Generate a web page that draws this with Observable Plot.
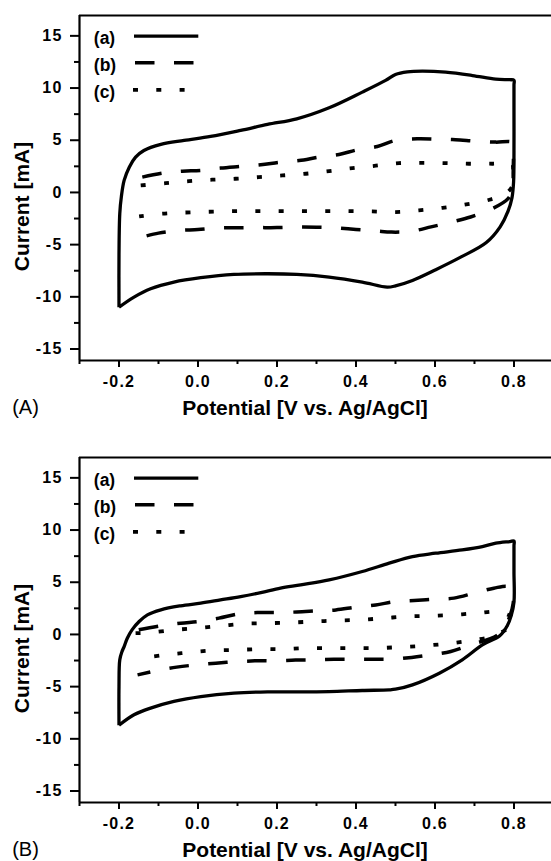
<!DOCTYPE html>
<html>
<head>
<meta charset="utf-8">
<script src="https://cdn.jsdelivr.net/npm/d3@7"></script>
<script src="https://cdn.jsdelivr.net/npm/@observablehq/plot@0.6"></script>
<style>
  html, body { margin: 0; padding: 0; background: #fff; overflow: hidden; }
  #wrap { width: 551px; }
  #wrap svg { display: block; }
  g[aria-label="x-axis tick label"] text, g[aria-label="y-axis tick label"] text { letter-spacing: 1.2px; }
</style>
</head>
<body>
<div id="wrap"></div>
<script>
// ---- axes / labels ----
const xMajorTicks = [-0.2, 0.0, 0.2, 0.4, 0.6, 0.8];
const xMinorTicks = [-0.3, -0.1, 0.1, 0.3, 0.5, 0.7, 0.9];
const yMajorTicks = [-15, -10, -5, 0, 5, 10, 15];
const yMinorTicks = [-12.5, -7.5, -2.5, 2.5, 7.5, 12.5];
const xDomain = [-0.3, 0.895];
const yDomain = [-16.1, 16.95];
const xTitle = "Potential [V vs. Ag/AgCl]";
const yTitle = "Current [mA]";
const seriesLabels = ["(a)", "(b)", "(c)"];
const panelLabels = ["(A)", "(B)"];

// ---- Panel A curves: [potential V, current mA] in sweep order ----
const A_a = [[-0.2,-11.0],[-0.2,-6.0],[-0.198,-2.0],[-0.194,-0.4],[-0.187,1.15],[-0.174,2.42],[-0.158,3.38],[-0.137,4.02],[-0.094,4.6],[-0.035,4.98],[0.032,5.36],[0.108,5.94],[0.176,6.51],[0.25,7.05],[0.332,8.11],[0.416,9.61],[0.475,10.73],[0.5,11.3],[0.53,11.55],[0.568,11.62],[0.627,11.52],[0.695,11.2],[0.754,10.85],[0.79,10.8],[0.8,10.75],[0.8,10.3],[0.8,8.0],[0.8,4.0],[0.799,1.0],[0.795,-0.5],[0.785,-1.8],[0.765,-3.3],[0.73,-4.8],[0.665,-6.2],[0.602,-7.4],[0.543,-8.43],[0.5,-8.95],[0.479,-9.07],[0.416,-8.59],[0.332,-8.11],[0.25,-7.85],[0.176,-7.79],[0.091,-7.85],[0.007,-8.17],[-0.061,-8.59],[-0.12,-9.23],[-0.162,-10.03],[-0.2,-11.0]];
const A_b = [[-0.141,1.47],[-0.09,1.85],[-0.04,2.04],[0.007,2.1],[0.057,2.33],[0.108,2.49],[0.159,2.65],[0.209,2.9],[0.256,3.05],[0.306,3.38],[0.357,3.64],[0.404,4.09],[0.454,4.4],[0.5,4.98],[0.555,5.14],[0.602,5.11],[0.652,5.05],[0.703,4.91],[0.754,4.82],[0.795,4.8],[0.798,4.3],[0.798,2.0],[0.796,0.3],[0.785,-0.6],[0.743,-1.6],[0.69,-2.35],[0.64,-2.85],[0.59,-3.3],[0.54,-3.72],[0.49,-3.8],[0.45,-3.68],[0.4,-3.55],[0.35,-3.4],[0.3,-3.33],[0.25,-3.32],[0.2,-3.37],[0.15,-3.37],[0.1,-3.38],[0.05,-3.4],[0.0,-3.55],[-0.05,-3.65],[-0.1,-3.9],[-0.15,-4.35]];
const A_c = [[-0.145,0.67],[-0.082,0.89],[-0.023,1.08],[0.036,1.22],[0.095,1.31],[0.154,1.47],[0.214,1.63],[0.273,1.79],[0.332,2.04],[0.391,2.33],[0.45,2.56],[0.509,2.81],[0.568,2.84],[0.627,2.81],[0.686,2.75],[0.745,2.75],[0.795,2.7],[0.798,2.2],[0.798,0.8],[0.78,-0.1],[0.738,-0.7],[0.679,-1.15],[0.619,-1.47],[0.559,-1.72],[0.5,-1.88],[0.441,-1.82],[0.382,-1.79],[0.323,-1.79],[0.264,-1.79],[0.205,-1.79],[0.146,-1.79],[0.087,-1.79],[0.028,-1.85],[-0.031,-1.92],[-0.09,-2.04],[-0.149,-2.3]];

// ---- Panel B curves ----
const B_a = [[-0.2,-8.7],[-0.2,-5.0],[-0.198,-2.43],[-0.192,-1.6],[-0.187,-1.16],[-0.179,-0.36],[-0.167,0.44],[-0.149,1.24],[-0.128,1.88],[-0.094,2.36],[-0.044,2.74],[0.007,3.0],[0.057,3.31],[0.108,3.63],[0.159,4.01],[0.209,4.43],[0.26,4.75],[0.332,5.23],[0.416,6.03],[0.484,6.83],[0.543,7.46],[0.602,7.78],[0.669,8.1],[0.72,8.42],[0.754,8.74],[0.79,8.9],[0.8,8.95],[0.8,8.5],[0.8,6.0],[0.8,3.1],[0.793,1.8],[0.783,0.83],[0.764,-0.13],[0.72,-1.0],[0.669,-2.43],[0.611,-3.71],[0.543,-4.83],[0.5,-5.25],[0.484,-5.31],[0.416,-5.37],[0.332,-5.47],[0.25,-5.5],[0.176,-5.5],[0.091,-5.62],[0.007,-5.95],[-0.061,-6.42],[-0.12,-7.06],[-0.162,-7.7],[-0.2,-8.7]];
const B_b = [[-0.15,0.45],[-0.094,0.82],[-0.044,1.08],[0.003,1.24],[0.053,1.56],[0.104,1.97],[0.15,2.1],[0.2,2.1],[0.25,2.15],[0.302,2.26],[0.349,2.35],[0.4,2.62],[0.45,2.83],[0.5,3.15],[0.547,3.25],[0.598,3.38],[0.648,3.48],[0.699,3.96],[0.749,4.43],[0.785,4.6],[0.798,4.2],[0.798,3.0],[0.79,1.8],[0.778,0.8],[0.757,-0.1],[0.69,-1.0],[0.64,-1.63],[0.589,-1.95],[0.541,-2.2],[0.492,-2.37],[0.443,-2.37],[0.395,-2.37],[0.344,-2.37],[0.294,-2.43],[0.247,-2.45],[0.194,-2.53],[0.144,-2.53],[0.095,-2.62],[0.045,-2.75],[-0.003,-2.91],[-0.054,-3.13],[-0.103,-3.46],[-0.153,-3.87]];
const B_c = [[-0.158,0.12],[-0.12,0.18],[-0.059,0.44],[-0.002,0.6],[0.057,0.82],[0.116,1.02],[0.176,1.08],[0.235,1.14],[0.294,1.24],[0.353,1.33],[0.412,1.4],[0.471,1.56],[0.53,1.72],[0.589,1.78],[0.648,1.88],[0.707,2.04],[0.76,2.15],[0.8,1.5],[0.8,1.0],[0.775,0.35],[0.745,-0.2],[0.686,-0.61],[0.627,-0.9],[0.568,-1.09],[0.509,-1.22],[0.45,-1.31],[0.391,-1.31],[0.332,-1.31],[0.273,-1.31],[0.214,-1.41],[0.154,-1.41],[0.095,-1.48],[0.036,-1.54],[-0.023,-1.73],[-0.082,-1.95],[-0.143,-2.27]];

const panels = [[A_a, A_b, A_c], [B_a, B_b, B_c]];

// ---- styles ----
const FONT = "'Liberation Sans', Arial, Helvetica, sans-serif";
const W = 551, H = 442, ML = 79, MR = 0, MT = 15, MB = 82;
const seriesDash = [null, "19.5,19.5", "5,18.3"];
const seriesWidth = [3.3, 3.5, 3.8];
const legendRowY = [35.7, 62.3, 89.3];      // px from svg top
const legendLineX = [[134, 198.3], [135, 194], [133, 185]]; // px
const midY = (MT + H - MB) / 2;

function panel(curves, label) {
  const marks = [];
  // frame lines (left, bottom, top)
  marks.push(Plot.ruleX([xDomain[0]], {stroke: "#000", strokeWidth: 2.2}));
  marks.push(Plot.ruleY([yDomain[0]], {stroke: "#000", strokeWidth: 2.2}));
  marks.push(Plot.ruleY([yDomain[1]], {stroke: "#000", strokeWidth: 2.2}));
  // axes
  marks.push(Plot.axisX({ticks: xMajorTicks, tickSize: 7, tickPadding: 8, strokeWidth: 2, tickFormat: d => d.toFixed(1), label: null, fontSize: 16, fontWeight: "bold", color: "#000"}));
  marks.push(Plot.axisX({ticks: xMinorTicks, tickSize: 4, tickFormat: () => "", strokeWidth: 2, label: null, color: "#000"}));
  marks.push(Plot.axisY({ticks: yMajorTicks, tickSize: 9, tickPadding: 8, strokeWidth: 2, tickFormat: d => String(d), label: null, fontSize: 16, fontWeight: "bold", color: "#000"}));
  marks.push(Plot.axisY({ticks: yMinorTicks, tickSize: 5, tickFormat: () => "", strokeWidth: 2, label: null, color: "#000"}));
  // curves
  curves.forEach((c, i) => {
    marks.push(Plot.line(c, {x: d => d[0], y: d => d[1], stroke: "#000", strokeWidth: seriesWidth[i],
      strokeDasharray: seriesDash[i], curve: "catmull-rom", strokeLinejoin: "round", strokeLinecap: "butt"}));
  });
  // legend
  seriesLabels.forEach((s, i) => {
    marks.push(Plot.text([s], {frameAnchor: "top-left", dx: 93.3 - ML, dy: legendRowY[i] + 2.5 - MT,
      textAnchor: "start", lineAnchor: "middle", fontSize: 17.5, fontWeight: "bold", fill: "#000"}));
    marks.push(Plot.ruleY([s], {y: null, insetLeft: legendLineX[i][0] - ML, insetRight: W - MR - legendLineX[i][1],
      dy: legendRowY[i] - midY, stroke: "#000", strokeWidth: seriesWidth[i], strokeDasharray: seriesDash[i]}));
  });
  // titles
  marks.push(Plot.text([yTitle], {frameAnchor: "left", dx: 21.5 - ML, dy: 206 - midY, rotate: -90,
    textAnchor: "middle", lineAnchor: "middle", fontSize: 21, fontWeight: "bold", fill: "#000"}));
  marks.push(Plot.text([xTitle], {frameAnchor: "bottom", dx: 304.5 - (ML + W - MR) / 2, dy: 47.3,
    textAnchor: "middle", lineAnchor: "middle", fontSize: 21, fontWeight: "bold", fill: "#000"}));
  marks.push(Plot.text([label], {frameAnchor: "bottom-left", dx: 25 - ML, dy: 47.5,
    textAnchor: "middle", lineAnchor: "middle", fontSize: 20, fontWeight: "normal", fill: "#000"}));

  return Plot.plot({
    width: W, height: H,
    marginLeft: ML, marginRight: MR, marginTop: MT, marginBottom: MB,
    x: {domain: xDomain},
    y: {domain: yDomain},
    style: {fontFamily: FONT, background: "#fff", color: "#000", overflow: "visible"},
    marks
  });
}

const wrap = document.getElementById("wrap");
panels.forEach((p, i) => wrap.appendChild(panel(p, panelLabels[i])));
</script>
</body>
</html>
